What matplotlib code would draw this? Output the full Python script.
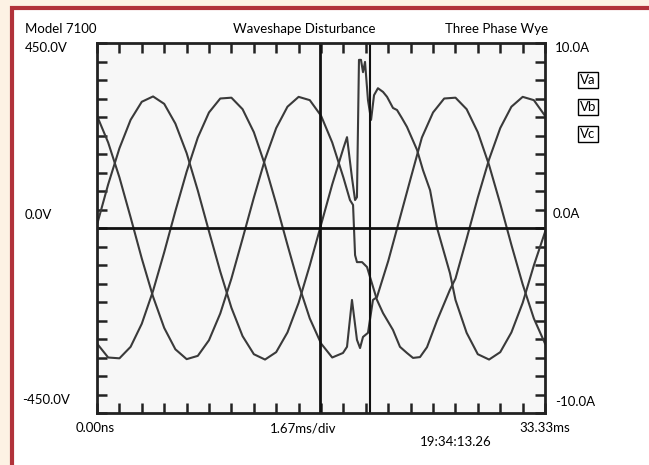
import numpy as np
import matplotlib.pyplot as plt
from matplotlib.patches import Rectangle

# traces: time in ms, voltage in V
va_t = [0.0, 0.83, 1.67, 2.5, 3.33, 4.17, 5.0, 5.83, 6.67, 7.5, 8.33, 9.17, 10.0, 10.83, 11.67,
        12.5, 13.33, 14.17, 15.0, 15.83, 16.67, 17.5, 18.33, 18.6, 18.97, 19.2, 19.34, 19.49,
        19.64, 19.79, 19.94, 20.16, 20.39, 20.61, 20.9, 21.28, 21.58, 22.02, 22.32, 22.69,
        23.06, 23.81, 24.25, 24.78, 25.3, 26.26, 26.67, 27.5, 28.33, 29.17, 30.0, 30.83,
        31.67, 32.5, 33.33]
va_v = [8, 106, 194, 263, 307, 320, 302, 254, 182, 91, -8, -106, -194, -263, -307,
        -320, -302, -254, -182, -91, 8, 106, 194, 221, 122, 68, 75, 409,
        409, 379, 404, 311, 263, 323, 340, 331, 319, 292, 287, 267,
        246, 190, 141, 92, 0, -110, -175, -255, -307, -320, -302, -254,
        -182, -91, -10]

vb_t = [0.0, 0.83, 1.67, 2.5, 3.33, 4.17, 5.0, 5.83, 6.67, 7.5, 8.33, 9.17, 10.0, 10.83, 11.67,
        12.5, 13.33, 14.17, 15.0, 15.83, 16.67, 17.5, 18.3, 18.6, 18.97, 19.34, 19.57, 19.79,
        20.16, 20.53, 20.83, 21.67, 22.5, 23.33, 24.17, 25.0, 25.83, 26.67, 27.5, 28.33,
        29.17, 30.0, 30.83, 31.67, 32.5, 33.33]
vb_v = [-281, -315, -317, -289, -233, -153, -59, 41, 137, 220, 281, 315, 317, 289, 233,
        153, 59, -41, -137, -220, -281, -315, -304, -289, -175, -272, -292, -265,
        -255, -175, -168, -80, 20, 120, 220, 281, 315, 317, 289, 233,
        153, 59, -41, -137, -220, -281]

vc_t = [0.0, 0.83, 1.67, 2.5, 3.33, 4.17, 5.0, 5.83, 6.67, 7.5, 8.33, 9.17, 10.0, 10.83, 11.67,
        12.5, 13.33, 14.17, 15.0, 15.83, 16.67, 17.5, 18.33, 18.82, 19.05, 19.2, 19.34, 19.72,
        20.09, 20.31, 20.83, 21.28, 22.02, 22.54, 23.06, 23.51, 24.03, 24.55, 25.3, 26.26,
        26.67, 27.5, 28.33, 29.17, 30.0, 30.83, 31.67, 32.5, 33.33]
vc_v = [273, 208, 123, 26, -74, -167, -243, -295, -319, -311, -273, -208, -123, -26, 74,
        167, 243, 295, 319, 311, 273, 208, 123, 68, 56, -66, -83, -83,
        -95, -119, -175, -207, -248, -289, -304, -316, -314, -290, -225, -150,
        -123, -26, 74, 167, 243, 295, 319, 311, 273]

cursors_ms = [16.6, 20.3]
phase_labels = ['Va', 'Vb', 'Vc']

W, H = 649, 465
fig = plt.figure(figsize=(W / 100, H / 100), dpi=100, facecolor='#fdf2e4')

def fx(px):
    return px / W

def fy(py):
    return 1 - py / H

# white panel with red border
fig.patches.append(Rectangle((fx(11.5), -0.1), 1.2, fy(8.5) + 0.1, transform=fig.transFigure,
                             facecolor='white', edgecolor='#b1323a', linewidth=3, zorder=-5))

ax = fig.add_axes([fx(97), fy(413), fx(545) - fx(97), fy(43) - fy(413)], zorder=2)
ax.set_facecolor('#f7f7f7')
ax.set_xlim(0, 33.33)
ax.set_ylim(-450, 450)

for t, v in ((va_t, va_v), (vb_t, vb_v), (vc_t, vc_v)):
    ax.plot(t, v, color='#3a3a3a', lw=1.5)

ax.axhline(0, color='#111111', lw=2)
ax.axvline(cursors_ms[0], color='#111111', lw=2)
ax.axvline(cursors_ms[1], color='#111111', lw=1.5)

ax.set_xticks(np.linspace(0, 33.33, 21))
ax.set_yticks(np.linspace(-450, 450, 21))
ax.tick_params(direction='in', length=7, width=1.8, color='#222222',
               top=True, right=True, labelbottom=False, labelleft=False)
for s in ax.spines.values():
    s.set_linewidth(2)
    s.set_color('#222222')

fnt = dict(family='Lato', fontsize=9.5, color='black')
fig.text(fx(25), fy(29), 'Model 7100', va='center', ha='left', **fnt)
fig.text(fx(304), fy(29), 'Waveshape Disturbance', va='center', ha='center', **fnt)
fig.text(fx(548), fy(29), 'Three Phase Wye', va='center', ha='right', **fnt)
fig.text(fx(25), fy(48), '450.0V', va='center', ha='left', **fnt)
fig.text(fx(25), fy(215), '0.0V', va='center', ha='left', **fnt)
fig.text(fx(22), fy(400), '-450.0V', va='center', ha='left', **fnt)
fig.text(fx(555), fy(48), '10.0A', va='center', ha='left', **fnt)
fig.text(fx(553), fy(214), '0.0A', va='center', ha='left', **fnt)
fig.text(fx(555), fy(402), '-10.0A', va='center', ha='left', **fnt)
fig.text(fx(95), fy(428), '0.00ns', va='center', ha='center', **fnt)
fig.text(fx(303), fy(428), '1.67ms/div', va='center', ha='center', **fnt)
fig.text(fx(545), fy(428), '33.33ms', va='center', ha='center', **fnt)
fig.text(fx(456), fy(442), '19:34:13.26', va='center', ha='center', **fnt)

for i, lab in enumerate(phase_labels):
    yc = 80 + i * 27
    fig.text(fx(588), fy(yc), lab, va='center', ha='center', **fnt,
             bbox=dict(boxstyle='square,pad=0.15', facecolor='white', edgecolor='black', lw=1))

fig.savefig('out.png', dpi=100, facecolor=fig.get_facecolor())
